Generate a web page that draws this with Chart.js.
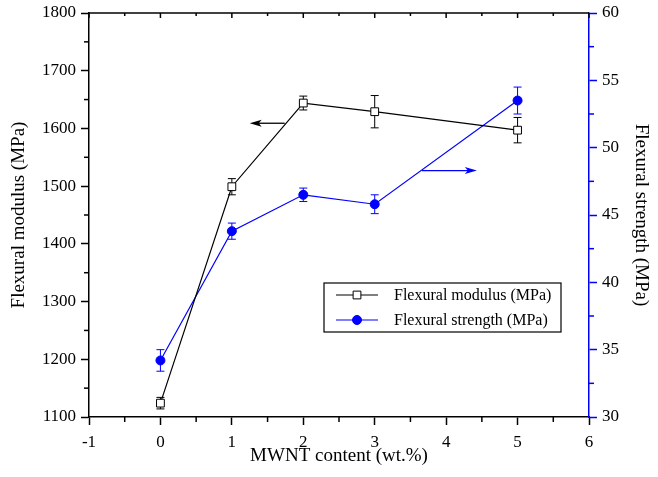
<!DOCTYPE html>
<html>
<head>
<meta charset="utf-8">
<script src="https://cdn.jsdelivr.net/npm/chart.js@4.4.1/dist/chart.umd.min.js"></script>
<style>
html, body { margin: 0; padding: 0; background: #fff; }
#wrap { width: 658px; height: 477px; }
</style>
</head>
<body>
<div id="wrap"><canvas id="grafiek" width="658" height="477"></canvas></div>
<script>
"use strict";
// data
const content = [0, 1, 2, 3, 5];
const modulus = [1124, 1499, 1644, 1629, 1597];
const modulusErr = [10, 14, 12, 28, 22];
const strength = [34.2, 43.8, 46.5, 45.8, 53.5];
const strengthErr = [0.8, 0.6, 0.5, 0.7, 1.0];
const labelModulus = 'Flexural modulus (MPa)';
const labelStrength = 'Flexural strength (MPa)';

const serif = "'Liberation Serif', 'Times New Roman', serif";
const blauw = '#0000ff';
const ctx = document.getElementById('grafiek');

function punten(ys) {
    return content.map((x, i) => ({x: x, y: ys[i]}));
}

// foutbalken onder de punten tekenen
const errorBars = {
    id: 'errorBars',
    beforeDatasetsDraw(chart) {
        const c = chart.ctx;
        const fouten = [modulusErr, strengthErr];
        chart.data.datasets.forEach((ds, d) => {
            const meta = chart.getDatasetMeta(d);
            const sc = chart.scales[ds.yAxisID];
            c.save();
            c.strokeStyle = ds.borderColor;
            c.lineWidth = 1;
            meta.data.forEach((pt, i) => {
                const v = ds.data[i].y;
                const top = sc.getPixelForValue(v + fouten[d][i]);
                const bot = sc.getPixelForValue(v - fouten[d][i]);
                c.beginPath();
                c.moveTo(pt.x, top); c.lineTo(pt.x, bot);
                c.moveTo(pt.x - 4, top); c.lineTo(pt.x + 4, top);
                c.moveTo(pt.x - 4, bot); c.lineTo(pt.x + 4, bot);
                c.stroke();
            });
            c.restore();
        });
    }
};

// kleine streepjes, bovenas, pijlen en legenda
const extras = {
    id: 'extras',
    afterDraw(chart) {
        const c = chart.ctx;
        const a = chart.chartArea;
        const {x, y, y2} = chart.scales;
        const lijn = (x1, y1, x2, y2_) => { c.beginPath(); c.moveTo(x1, y1); c.lineTo(x2, y2_); c.stroke(); };
        c.save();
        c.lineWidth = 1.5;
        c.strokeStyle = '#000';
        // top border
        lijn(a.left, a.top, a.right, a.top);
        for (let v = -1; v <= 6; v++) {
            const px = x.getPixelForValue(v);
            lijn(px, a.top, px, a.top + 5);
        }
        for (let v = -0.5; v < 6; v++) {
            const px = x.getPixelForValue(v);
            lijn(px, a.bottom, px, a.bottom + 5);
            lijn(px, a.top, px, a.top + 3);
        }
        for (let v = 1150; v < 1800; v += 100) {
            const py = y.getPixelForValue(v);
            lijn(a.left - 5, py, a.left, py);
        }
        c.strokeStyle = blauw;
        for (let v = 32.5; v < 60; v += 5) {
            const py = y2.getPixelForValue(v);
            lijn(a.right, py, a.right + 5, py);
        }
        c.restore();

        // pijlen
        const pijl = (sc, xa, xb, v, kleur) => {
            const p1 = x.getPixelForValue(xa), p2 = x.getPixelForValue(xb);
            const py = sc.getPixelForValue(v);
            const dir = Math.sign(p2 - p1);
            c.save();
            c.strokeStyle = kleur; c.fillStyle = kleur; c.lineWidth = 1.3;
            lijn(p1, py, p2 - dir * 8, py);
            c.beginPath();
            c.moveTo(p2, py);
            c.lineTo(p2 - dir * 12, py - 3.5);
            c.lineTo(p2 - dir * 9, py);
            c.lineTo(p2 - dir * 12, py + 3.5);
            c.closePath();
            c.fill();
            c.restore();
        };
        pijl(y, 1.74, 1.25, 1609, '#000');
        pijl(y2, 3.66, 4.43, 48.3, blauw);

        // legenda
        const lx = 324, ly = 283, lw = 237, lh = 49;
        c.save();
        c.fillStyle = '#fff';
        c.fillRect(lx, ly, lw, lh);
        c.strokeStyle = '#000'; c.lineWidth = 1.2;
        c.strokeRect(lx, ly, lw, lh);
        c.font = '16px ' + serif;
        c.textBaseline = 'middle';
        chart.data.datasets.forEach((ds, i) => {
            const ry = ly + 12 + i * 25;
            c.strokeStyle = ds.borderColor; c.lineWidth = 1;
            lijn(lx + 12, ry, lx + 54, ry);
            c.fillStyle = ds.pointBackgroundColor;
            c.beginPath();
            if (ds.pointStyle === 'rect') {
                const s = ds.pointRadius * Math.SQRT1_2;
                c.rect(lx + 33 - s, ry - s, 2 * s, 2 * s);
            } else {
                c.arc(lx + 33, ry, ds.pointRadius, 0, Math.PI * 2);
            }
            c.fill(); c.stroke();
            c.fillStyle = '#000';
            c.fillText(ds.label, lx + 70, ry + 1);
        });
        c.restore();
    }
};

const tickFont = {family: serif, size: 17};
const titleFont = {family: serif, size: 19};
const plain = (v) => String(v);

// vaste breedtes zodat het plotvlak op dezelfde plek staat
function vasteBreedte(w) {
    return (s) => { s.width = w; s.paddingTop = 0; s.paddingBottom = 0; };
}

const config = {
    type: 'line',
    data: {
        datasets: [{
            label: labelModulus,
            data: punten(modulus),
            yAxisID: 'y',
            borderColor: '#000',
            backgroundColor: '#fff',
            pointBackgroundColor: '#fff',
            pointBorderColor: '#000',
            pointStyle: 'rect',
            pointRadius: 5.5,
            pointBorderWidth: 1,
            borderWidth: 1.2,
            fill: false
        }, {
            label: labelStrength,
            data: punten(strength),
            yAxisID: 'y2',
            borderColor: blauw,
            backgroundColor: blauw,
            pointBackgroundColor: blauw,
            pointBorderColor: blauw,
            pointStyle: 'circle',
            pointRadius: 4.5,
            pointBorderWidth: 1,
            borderWidth: 1.2,
            fill: false
        }]
    },
    options: {
        responsive: false,
        animation: false,
        devicePixelRatio: 1,
        layout: {padding: {top: 13, left: 0, right: 0, bottom: 0}},
        plugins: {legend: {display: false}, tooltip: {enabled: false}},
        scales: {
            x: {
                type: 'linear', min: -1, max: 6,
                afterFit: (s) => { s.height = 60; s.paddingLeft = 0; s.paddingRight = 0; },
                ticks: {stepSize: 1, font: tickFont, color: '#000', padding: 7, callback: plain},
                grid: {drawOnChartArea: false, color: '#000', tickLength: 8, tickWidth: 1.5},
                border: {color: '#000', width: 1.5},
                title: {display: true, text: 'MWNT content (wt.%)', font: titleFont, color: '#000', padding: {top: 0, bottom: 10}}
            },
            y: {
                position: 'left', min: 1100, max: 1800,
                afterFit: vasteBreedte(89),
                ticks: {stepSize: 100, font: tickFont, color: '#000', padding: 5, callback: plain},
                grid: {drawOnChartArea: false, color: '#000', tickLength: 8, tickWidth: 1.5},
                border: {color: '#000', width: 1.5},
                title: {display: true, text: labelModulus, font: titleFont, color: '#000', padding: {top: 8, bottom: 0}}
            },
            y2: {
                position: 'right', min: 30, max: 60,
                afterFit: vasteBreedte(69),
                ticks: {stepSize: 5, font: tickFont, color: '#000', padding: 5, callback: plain},
                grid: {drawOnChartArea: false, color: blauw, tickLength: 8, tickWidth: 1.5},
                border: {color: blauw, width: 1.5},
                title: {display: true, text: labelStrength, font: titleFont, color: '#000', padding: {top: 6, bottom: 0}}
            }
        }
    },
    plugins: [errorBars, extras]
};

const chart = new Chart(ctx, config);
</script>
</body>
</html>
